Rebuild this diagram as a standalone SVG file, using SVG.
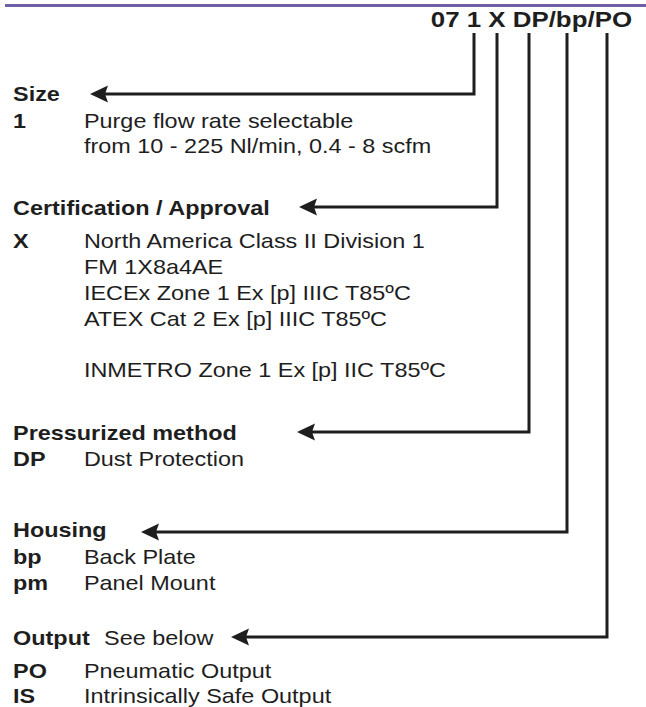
<svg xmlns="http://www.w3.org/2000/svg" width="646" height="707" viewBox="0 0 646 707">
<style>
  text { font-family: "Liberation Sans", Arial, sans-serif; fill: #1e1e1e; font-size: 21px; }
  .b { font-weight: bold; }
  .code { font-weight: bold; font-size: 22.5px; text-anchor: end; }
  .conn { fill: none; stroke: #1e1e1e; stroke-width: 3; marker-end: url(#arr); }
</style>
<defs>
  <marker id="arr" markerUnits="userSpaceOnUse" markerWidth="20" markerHeight="18" viewBox="0 -9 20 18" refX="8" refY="0" orient="auto" overflow="visible">
    <path d="M0,-8.5 L18,0 L0,8.5 L3,0 Z" fill="#1e1e1e"/>
  </marker>
</defs>
<rect width="646" height="707" fill="#ffffff"/>
<line x1="5" y1="5.5" x2="646" y2="5.5" stroke="#6e5fa6" stroke-width="3"/>

<g id="code" transform="scale(1.15 1)">
  <text class="code" x="549.6" y="27">07 1 X DP/bp/PO</text>
</g>

<g id="connectors">
  <path class="conn" d="M474,33 V94 H100"/>
  <path class="conn" d="M497,33 V207 H309"/>
  <path class="conn" d="M529,33 V432 H307"/>
  <path class="conn" d="M567,33 V532 H151"/>
  <path class="conn" d="M607,33 V637 H241"/>
</g>

<g id="size" transform="scale(1.115 1)">
  <text class="b" x="11.7" y="101">Size</text>
  <text class="b" x="11.7" y="128">1</text>
  <text x="75.3" y="128">Purge flow rate selectable</text>
  <text x="75.3" y="153">from 10 - 225 Nl/min, 0.4 - 8 scfm</text>
</g>

<g id="certification" transform="scale(1.115 1)">
  <text class="b" x="11.7" y="215">Certification / Approval</text>
  <text class="b" x="11.7" y="248">X</text>
  <text x="75.3" y="248">North America Class II Division 1</text>
  <text x="75.3" y="274">FM 1X8a4AE</text>
  <text x="75.3" y="300">IECEx Zone 1 Ex [p] IIIC T85ºC</text>
  <text x="75.3" y="326">ATEX Cat 2 Ex [p] IIIC T85ºC</text>
  <text x="75.3" y="377">INMETRO Zone 1 Ex [p] IIC T85ºC</text>
</g>

<g id="pressurized" transform="scale(1.115 1)">
  <text class="b" x="11.7" y="440">Pressurized method</text>
  <text class="b" x="11.7" y="466">DP</text>
  <text x="75.3" y="466">Dust Protection</text>
</g>

<g id="housing" transform="scale(1.115 1)">
  <text class="b" x="11.7" y="537">Housing</text>
  <text class="b" x="11.7" y="564">bp</text>
  <text x="75.3" y="564">Back Plate</text>
  <text class="b" x="11.7" y="590">pm</text>
  <text x="75.3" y="590">Panel Mount</text>
</g>

<g id="output" transform="scale(1.115 1)">
  <text class="b" x="11.7" y="645">Output</text>
  <text x="93.3" y="645">See below</text>
  <text class="b" x="11.7" y="678">PO</text>
  <text x="75.3" y="678">Pneumatic Output</text>
  <text class="b" x="11.7" y="703">IS</text>
  <text x="75.3" y="703">Intrinsically Safe Output</text>
</g>
</svg>
